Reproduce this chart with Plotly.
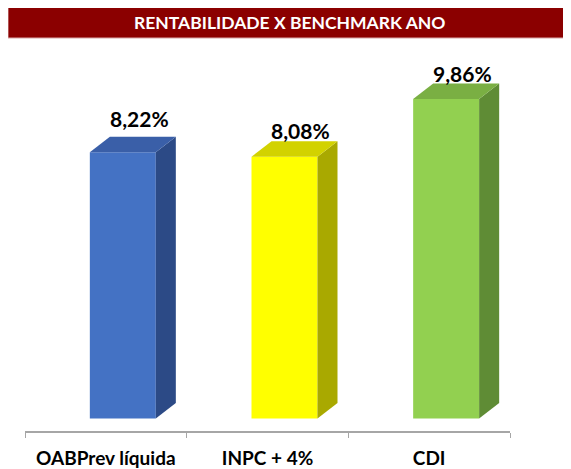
import plotly.graph_objects as go

categories = ["OABPrev líquida", "INPC + 4%", "CDI"]
values = [8.22, 8.08, 9.86]
value_labels = ["8,22%", "8,08%", "9,86%"]
title_text = "RENTABILIDADE X BENCHMARK ANO"

front_colors = ["#4472C4", "#FFFF00", "#92D050"]
top_colors = ["#3A5FA8", "#D2D200", "#7AAF43"]
side_colors = ["#2C4A86", "#A9A900", "#5F8C35"]

# figure is offset by the page's 8px body margin
W, H = 563, 461
ML, MR, MT, MB = 17, 61, 37, 38
PLOT_W = W - ML - MR
PLOT_H = H - MT - MB
PX_PER_UNIT = 32.4
Y_MIN = -12.5 / PX_PER_UNIT
Y_MAX = Y_MIN + PLOT_H / PX_PER_UNIT
BAR_OFF = 0.105
BAR_W = 0.408
DX = 0.124
DY = 0.478
FONT = "Lato, 'Open Sans', sans-serif"

fig = go.Figure()

fig.add_trace(go.Scatter(x=categories, y=[0] * len(categories), mode="markers",
                         marker=dict(opacity=0), hoverinfo="skip", showlegend=False,
                         xaxis="x", yaxis="y"))

xs = [i + BAR_OFF for i in range(len(values))]
fig.add_trace(go.Bar(x=xs, y=values, width=BAR_W,
                     marker=dict(color=front_colors, line=dict(width=0)),
                     xaxis="x2", yaxis="y", hoverinfo="skip", showlegend=False))

for i, v in enumerate(values):
    xl, xr = xs[i] - BAR_W / 2, xs[i] + BAR_W / 2
    fig.add_trace(go.Scatter(
        x=[xr, xr + DX, xr + DX, xr, xr], y=[0, DY, v + DY, v, 0],
        fill="toself", fillcolor=side_colors[i], mode="lines", line=dict(width=0),
        xaxis="x2", yaxis="y", hoverinfo="skip", showlegend=False))
    fig.add_trace(go.Scatter(
        x=[xl, xl + DX, xr + DX, xr, xl], y=[v, v + DY, v + DY, v, v],
        fill="toself", fillcolor=top_colors[i], mode="lines", line=dict(width=0),
        xaxis="x2", yaxis="y", hoverinfo="skip", showlegend=False))

label_yshift = [18, 11, 10]
annotations = []
for i, v in enumerate(values):
    annotations.append(dict(
        x=xs[i] + 0.102, y=v + DY, xref="x2", yref="y", text="<b>%s</b>" % value_labels[i],
        showarrow=False, yanchor="middle", yshift=label_yshift[i],
        font=dict(family=FONT, size=21, color="#000000")))

annotations.append(dict(
    x=(281 - ML) / PLOT_W, y=(H - MB - 14) / PLOT_H, xref="paper", yref="paper",
    text="<b>%s</b>" % title_text, showarrow=False, xanchor="center", yanchor="middle",
    font=dict(family=FONT, size=17.5, color="#FFFFFF")))

shapes = [dict(type="rect", xref="paper", yref="paper",
               x0=(0 - ML) / PLOT_W, x1=(W + 2 - ML) / PLOT_W,
               y0=(H - MB - 30) / PLOT_H, y1=(H - MB + 1) / PLOT_H,
               fillcolor="#8B0000", line=dict(width=1, color="#D8A8A8"), layer="below")]

fig.update_layout(
    width=W, height=H, autosize=False,
    margin=dict(l=ML, r=MR, t=MT, b=MB, pad=0, autoexpand=False),
    paper_bgcolor="#FFFFFF", plot_bgcolor="#FFFFFF",
    showlegend=False,
    xaxis=dict(type="category", categoryorder="array", categoryarray=categories,
               range=[-0.5, len(categories) - 0.5], tickson="boundaries",
               ticks="outside", ticklen=5, tickcolor="#A6A6A6", tickwidth=1,
               showline=True, linecolor="#A6A6A6", linewidth=2, showgrid=False,
               zeroline=False, ticklabelstandoff=9, automargin=False,
               tickfont=dict(family=FONT, size=19, color="#000000"),
               tickvals=categories, ticktext=["<b>%s</b>" % c for c in categories],
               fixedrange=True),
    xaxis2=dict(overlaying="x", range=[-0.5, len(categories) - 0.5], visible=False,
                fixedrange=True),
    yaxis=dict(range=[Y_MIN, Y_MAX], visible=False, fixedrange=True, automargin=False),
    annotations=annotations, shapes=shapes,
)

fig.write_html("out.html")
